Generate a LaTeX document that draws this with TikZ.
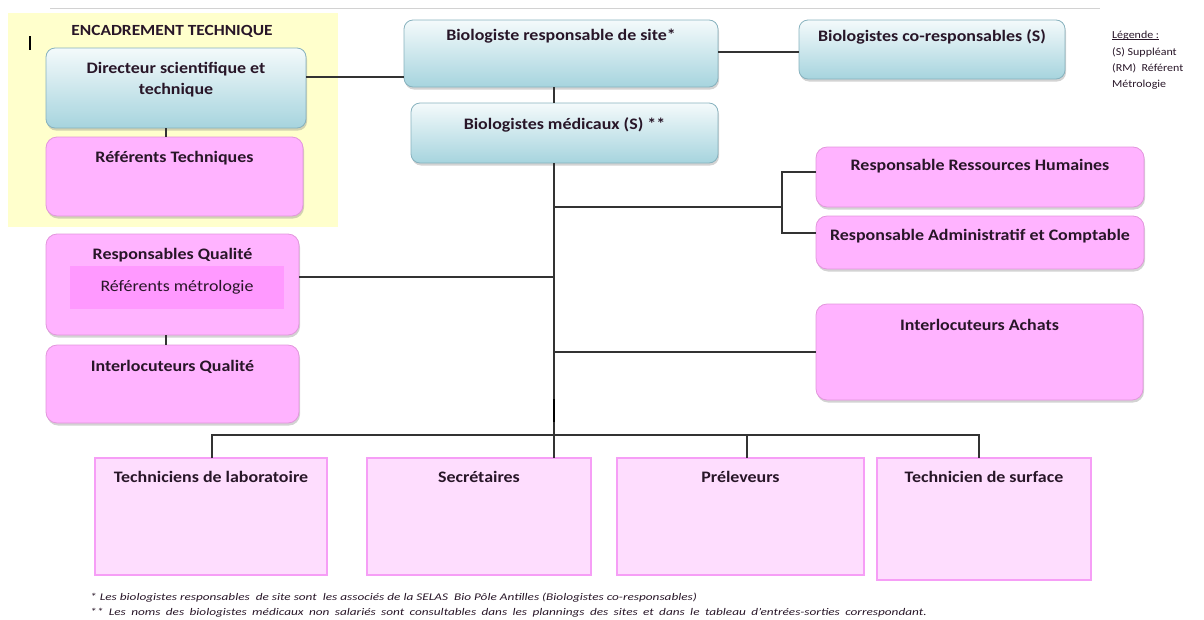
\documentclass[tikz,border=0pt]{standalone}
\usepackage{fontspec}
\setmainfont{Carlito}[FakeStretch=1.12]
\newfontfamily\notefont{Carlito}[FakeStretch=1.3]
\usetikzlibrary{shadows}

\definecolor{bleuhaut}{RGB}{244,250,251}
\definecolor{bleubas}{RGB}{166,212,222}
\definecolor{bleubord}{RGB}{135,178,190}
\definecolor{rose}{RGB}{255,179,255}
\definecolor{rosebord}{RGB}{226,150,220}
\definecolor{rosefonce}{RGB}{255,153,255}
\definecolor{rosepale}{RGB}{254,221,254}
\definecolor{rosetrait}{RGB}{246,158,246}
\definecolor{jaune}{RGB}{255,255,204}
\definecolor{encre}{RGB}{40,22,40}

\tikzset{
  boite/.style={inner sep=0pt, outer sep=0pt, drop shadow={shadow xshift=1pt,shadow yshift=-2.5pt,opacity=0.35}},
  bleu/.style={boite, rounded corners=9pt, draw=bleubord, line width=0.8pt, top color=bleuhaut, bottom color=bleubas},
  rosebox/.style={boite, rounded corners=11pt, draw=rosebord, line width=0.8pt, fill=rose},
  poste/.style={inner sep=0pt, outer sep=0pt, draw=rosetrait, line width=2.2pt, fill=rosepale},
  titre/.style={anchor=north, yshift=-14pt, inner sep=0pt, align=center, text=encre, font=\bfseries\fontsize{16}{21}\selectfont},
  lien/.style={draw=black!80, line width=1.1pt},
  petit/.style={inner sep=0pt, text=encre, font=\fontsize{10.7}{16}\selectfont},
}

\begin{document}
\begin{tikzpicture}[x=1pt,y=-1pt]
  \useasboundingbox (0,0) rectangle (1204,619);

  % cadre encadrement technique
  \fill[jaune] (8,13) rectangle (338,227);
  \draw[gray!35, line width=1pt] (50,8) -- (1100,8);
  \draw[black, line width=1.5pt] (30,36) -- (30,50);
  \node[inner sep=0pt, text=encre, font=\bfseries\fontsize{15.5}{18}\selectfont] (encadr) at (172,31) {ENCADREMENT TECHNIQUE};

  % direction
  \node[bleu, minimum width=260pt, minimum height=80pt, label={[titre]north:Directeur scientifique et\\technique}] (dir) at (176,88) {};
  \node[rosebox, minimum width=257pt, minimum height=79pt, label={[titre]north:Référents Techniques}] (reftech) at (174.5,176.5) {};
  \node[bleu, minimum width=314pt, minimum height=67pt, label={[titre, yshift=5pt]north:Biologiste responsable de site*}] (bioresp) at (561,53.5) {};
  \node[bleu, minimum width=266pt, minimum height=59pt, label={[titre, yshift=5pt]north:Biologistes co-responsables (S)}] (cores) at (932,49.5) {};
  \node[bleu, minimum width=307pt, minimum height=60pt, label={[titre]north:Biologistes médicaux (S) **}] (biomed) at (564.5,133) {};

  % legende
  \node[petit, anchor=base west] (legtitre) at (1112,38) {Légende :};
  \draw[encre, line width=0.6pt] ([yshift=-1.5pt]legtitre.base west) -- ([yshift=-1.5pt]legtitre.base east);
  \node[petit, anchor=north west, align=left] (legende) at (1112,47)
    {(S) Suppléant\\(RM)\ \ Référent\\Métrologie};

  % services
  \node[rosebox, minimum width=328pt, minimum height=60pt, label={[titre, yshift=2pt]north:Responsable Ressources Humaines}] (rh) at (980,177) {};
  \node[rosebox, minimum width=328pt, minimum height=53pt, label={[titre, yshift=1pt]north:Responsable Administratif et Comptable}] (admin) at (980,242.5) {};
  \node[rosebox, minimum width=327pt, minimum height=96pt, label={[titre, yshift=-1pt]north:Interlocuteurs Achats}] (achats) at (979.5,352) {};
  \node[rosebox, minimum width=253pt, minimum height=101pt, label={[titre]north:Responsables Qualité}] (respq) at (172.5,284.5) {};
  \node[fill=rosefonce, minimum width=214pt, minimum height=43pt, inner sep=0pt, text=encre, font=\fontsize{16}{18}\selectfont] (metro) at (177,287.5) {Référents métrologie};
  \node[rosebox, minimum width=253pt, minimum height=78pt, label={[titre, yshift=-1pt]north:Interlocuteurs Qualité}] (interq) at (172.5,384) {};

  % personnel
  \node[poste, minimum width=232pt, minimum height=117pt, label={[titre, yshift=1pt]north:Techniciens de laboratoire}] (techlab) at (211,516.5) {};
  \node[poste, minimum width=224pt, minimum height=117pt, label={[titre, yshift=1pt]north:Secrétaires}] (secr) at (479,516.5) {};
  \node[poste, minimum width=247pt, minimum height=117pt, label={[titre, yshift=1pt]north:Préleveurs}] (prel) at (740.5,516.5) {};
  \node[poste, minimum width=214pt, minimum height=122pt, label={[titre, yshift=1pt]north:Technicien de surface}] (techsurf) at (984,519) {};

  % liaisons
  \coordinate (trunk) at (554,300);
  \coordinate (brk) at (782,207);
  \coordinate (bar) at (554,435);
  \draw[lien] (dir.east |- 0,77) -- (bioresp.west |- 0,77);
  \draw[lien] (bioresp.east |- 0,52) -- (cores.west |- 0,52);
  \draw[lien] (dir.south -| 166,0) -- (reftech.north -| 166,0);
  \draw[lien] (bioresp.south -| trunk) -- (biomed.north -| trunk);
  \draw[lien] (biomed.south -| trunk) -- (secr.north -| trunk);
  \draw[lien] (trunk |- brk) -- (brk);
  \draw[lien] (rh.west |- 0,172) -| (brk) |- (admin.west |- 0,233);
  \draw[lien] (trunk |- achats.west) -- (achats.west);
  \draw[lien] (respq.east |- 0,277) -- (trunk |- 0,277);
  \draw[lien] (respq.south -| 166,0) -- (interq.north -| 166,0);
  \draw[lien] (techlab.north -| 212,0) |- (bar) -| (techsurf.north -| 979,0);
  \draw[lien] (bar -| 747,0) -- (prel.north -| 747,0);
  \draw[black, line width=2.4pt] (trunk |- 0,399) -- (trunk |- 0,422);

  % notes
  \node[anchor=west, inner sep=0pt, text=encre, font=\notefont\itshape\fontsize{10.2}{12}\selectfont] (note1) at (90,598)
    {* Les biologistes responsables\ \ de site sont\ \ les associés de la SELAS\ \ Bio Pôle Antilles (Biologistes co-responsables)};
  \node[anchor=west, inner sep=0pt, text=encre, font=\notefont\itshape\fontsize{10.2}{12}\selectfont] (note2) at (90,613)
    {\spaceskip=5.4pt ** Les noms des biologistes médicaux non salariés sont consultables dans les plannings des sites et dans le tableau d’entrées-sorties correspondant.};
\end{tikzpicture}
\end{document}
